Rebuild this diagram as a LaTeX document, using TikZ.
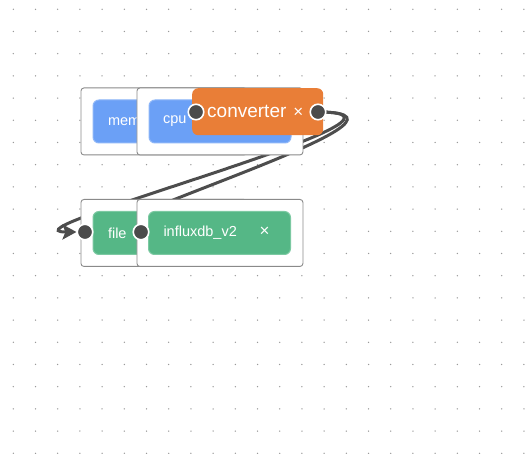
\documentclass[tikz,border=0pt]{standalone}
\usepackage{fontspec}
\setmainfont{Liberation Sans}
\usetikzlibrary{arrows.meta}
\pgfdeclarelayer{gridl}
\pgfdeclarelayer{edgel}
\pgfsetlayers{gridl,edgel,main}
\definecolor{nblue}{HTML}{6BA0F6}
\definecolor{nbluel}{HTML}{8DB6F8}
\definecolor{ngreen}{HTML}{55B786}
\definecolor{ngreenl}{HTML}{7CC9A2}
\definecolor{norange}{HTML}{E97E37}
\definecolor{portc}{HTML}{4B4B4B}
\definecolor{edgec}{HTML}{4D4D4D}
\definecolor{boxline}{HTML}{8A8A8A}
\definecolor{dotc}{HTML}{9A9A9A}
\newcommand{\closemark}{{\fontsize{17}{17}\selectfont ×}}
\begin{document}
\begin{tikzpicture}[x=1pt,y=-1pt,
  groupbox/.style={draw=boxline, fill=white, line width=0.9pt, rounded corners=3pt,
    minimum width=166pt, minimum height=67pt, anchor=north west, inner sep=0pt},
  bluenode/.style={fill=nblue, draw=nbluel, line width=1pt, rounded corners=6pt,
    minimum height=43pt, anchor=north west, inner sep=0pt, text=white,
    font=\fontsize{14.5}{16}\selectfont},
  greennode/.style={fill=ngreen, draw=ngreenl, line width=1pt, rounded corners=6pt,
    minimum height=43pt, anchor=north west, inner sep=0pt, text=white,
    font=\fontsize{14.5}{16}\selectfont},
  orangenode/.style={fill=norange, rounded corners=6pt,
    minimum height=47pt, anchor=north west, inner sep=0pt, text=white,
    font=\fontsize{19}{21}\selectfont},
  port/.style={circle, fill=portc, draw=white, line width=1.6pt, minimum size=15.5pt, inner sep=0pt},
  wire/.style={draw=edgec, line width=3pt}
]
\useasboundingbox (0,0) rectangle (528,454);
\begin{pgfonlayer}{gridl}
\foreach \i in {0,...,23}
  \foreach \j in {0,...,20}
    \fill[dotc] (13.3+22.2*\i, 9.3+22.2*\j) circle (0.75);
\end{pgfonlayer}

% top group
\node[groupbox] (g1) at (80.5,87.5) {};
\node[bluenode] (mem) at (92.5,99.5) {\makebox[142pt][l]{\hspace{15pt}mem\hfill}};
\node[groupbox] (g2) at (136.5,87.5) {};
\node[bluenode] (cpu) at (148.5,99.5) {\makebox[142pt][l]{\hspace{14pt}cpu\hfill}};
\node[orangenode] (conv) at (192,88) {\makebox[131pt][l]{\hspace{15pt}converter\hfill\closemark\hspace{20pt}}};
\node[port] (convin) at (196,112) {};
\node[port] (convout) at (318,112) {};

% bottom group
\node[groupbox] (g3) at (80.5,199) {};
\node[greennode] (file) at (92.5,211) {\makebox[142pt][l]{\hspace{15pt}file\hfill}};
\node[groupbox] (g4) at (136.5,199) {};
\node[greennode] (influx) at (148,211) {\makebox[142pt][l]{\hspace{15pt}influxdb\_v2\hfill\closemark\hspace{21pt}}};
\node[port] (filein) at (85,232) {};
\node[port] (influxin) at (141,232) {};

\begin{pgfonlayer}{edgel}
\draw[wire, -{Stealth[length=14pt,width=15pt,inset=3pt]}] (convout.center) .. controls +(140,0) and +(-85,0) .. (filein.west);
\draw[wire, -{Stealth[length=14pt,width=15pt,inset=3pt]}] (convout.center) .. controls +(140,0) and +(-85,0) .. (influxin.west);
\end{pgfonlayer}
\end{tikzpicture}
\end{document}
